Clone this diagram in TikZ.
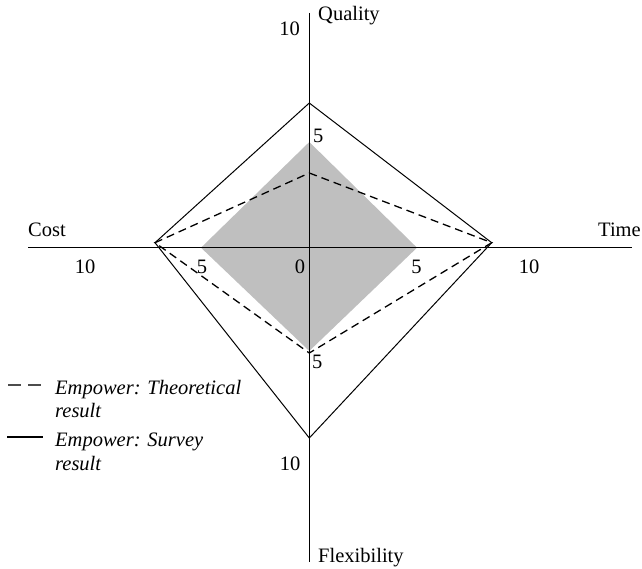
\documentclass[tikz,border=0pt]{standalone}
\usepackage{fontspec}
\setmainfont{Liberation Serif}

\begin{document}
\begin{tikzpicture}[x=1pt,y=-1pt,font=\fontsize{20.5}{23}\selectfont,
                    every node/.style={inner sep=0pt},
                    axis/.style={line width=1.2pt},
                    survey/.style={line width=1pt,line join=miter},
                    theory/.style={line width=1.3pt,dash pattern=on 8pt off 5pt},
                    lab/.style={anchor=base},
                    leg/.style={anchor=base west,font=\fontsize{20.5}{23}\selectfont\itshape}]

            \useasboundingbox (0,0) rectangle (642,569);

            \coordinate (o) at (309.3,247.7);

            \coordinate (qend) at (309.3,13);

            \coordinate (fend) at (309.3,562);

            \coordinate (cend) at (28,247.7);

            \coordinate (tend) at (632,247.7);

            \coordinate (g1) at (309.3,142);

            \coordinate (g2) at (417,247.7);

            \coordinate (g3) at (309.3,351);

            \coordinate (g4) at (201,247.7);

            \coordinate (s1) at (309.3,103);

            \coordinate (s3) at (309.3,438);

            \coordinate (t1) at (309.3,173);

            \coordinate (t3) at (309.3,353);

            \coordinate (vr) at (491.7,242.7);

            \coordinate (vl) at (155,242.7);

            

            \fill[black!25] (g1) -- (g2) -- (g3) -- (g4) -- cycle;

            \draw[axis] (cend) -- (tend)
                        (qend) -- (fend);

            \draw[theory] (t1) -- (vr) -- (t3) -- (vl) -- cycle;

            \draw[survey] (s1) -- (vr) -- (s3) -- (vl) -- cycle;

            

            \node (lq) [anchor=base west] at (318,21) {Quality};

            \node (lf) [anchor=base west] at (318,562) {Flexibility};

            \node (lc) [anchor=base west] at (28,237) {Cost};

            \node (lt) [anchor=base west] at (598,237) {Time};

            \node (q10) [anchor=base east] at (300,36) {10};

            \node (q5) [anchor=base west] at (313,143) {5};

            \node (f5) [anchor=base west] at (312,368) {5};

            \node (f10) [anchor=base east] at (300.5,470) {10};

            \node (c10) [lab] at (85,273) {10};

            \node (c5) [lab] at (202,273) {5};

            \node (zero) [lab] at (300,273) {0};

            \node (t5) [lab] at (416.5,273) {5};

            \node (t10) [lab] at (529,273) {10};

            

            \node (legt) [leg] at (55,394) {Empower: Theoretical};

            \node (legtb) [leg] at (55,417) {result};

            \node (legs) [leg] at (55,446) {Empower: Survey};

            \node (legsb) [leg] at (55,470) {result};

            \coordinate (dt1) at (8,385);

            \coordinate (dt2) at (42,385);

            \coordinate (ds1) at (7,437);

            \coordinate (ds2) at (43,437);

            \draw[black!70,line width=1.2pt,dash pattern=on 13pt off 7pt] (dt1) -- (dt2);

            \draw[line width=1.2pt] (ds1) -- (ds2);

        \end{tikzpicture}
\end{document}
